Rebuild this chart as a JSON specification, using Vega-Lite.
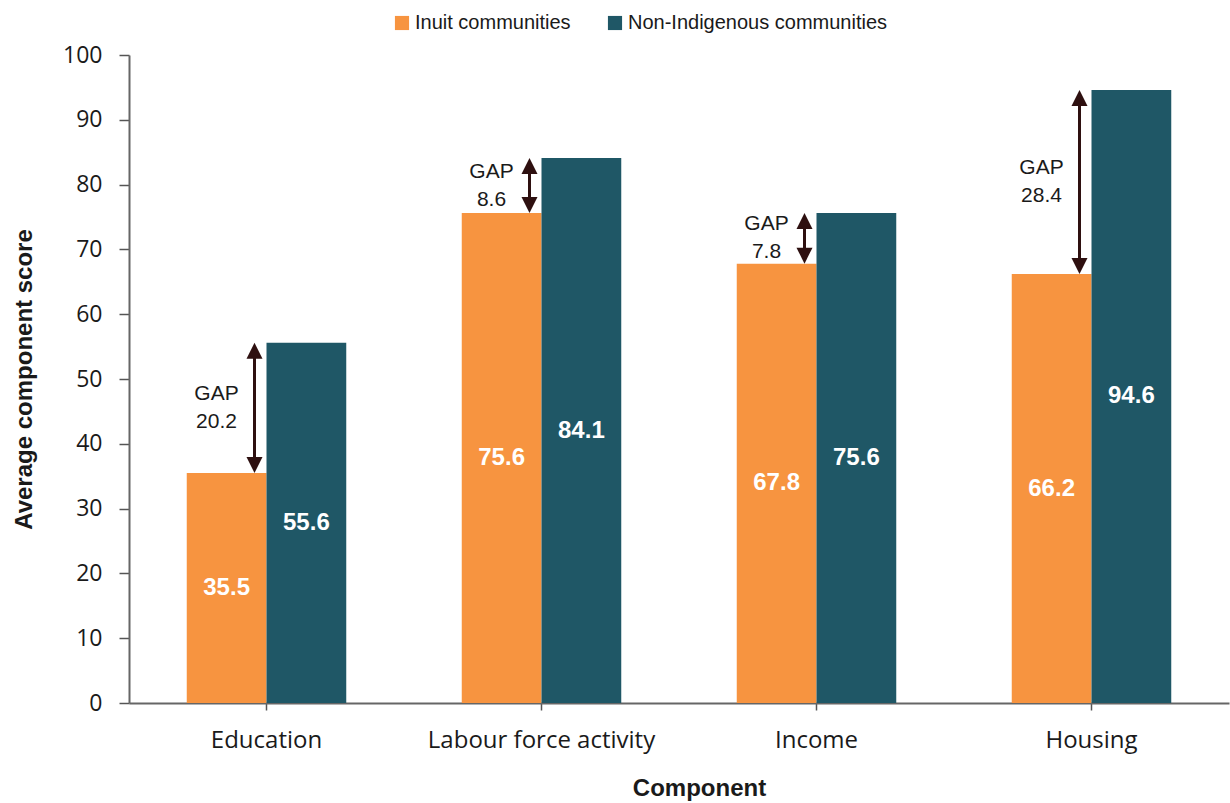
{
  "$schema": "https://vega.github.io/schema/vega-lite/v6.json",
  "width": 1100,
  "height": 648,
  "autosize": {"type": "none"},
  "padding": {"left": 129, "top": 55, "right": 1, "bottom": 100},
  "background": "white",
  "config": {"view": {"stroke": null}},
  "data": {
    "values": [
      {"component": "Education", "group": "Inuit communities", "value": 35.5, "gap": "GAP\n20.2"},
      {"component": "Education", "group": "Non-Indigenous communities", "value": 55.6, "gap": "GAP\n20.2"},
      {"component": "Labour force activity", "group": "Inuit communities", "value": 75.6, "gap": "GAP\n8.6"},
      {"component": "Labour force activity", "group": "Non-Indigenous communities", "value": 84.1, "gap": "GAP\n8.6"},
      {"component": "Income", "group": "Inuit communities", "value": 67.8, "gap": "GAP\n7.8"},
      {"component": "Income", "group": "Non-Indigenous communities", "value": 75.6, "gap": "GAP\n7.8"},
      {"component": "Housing", "group": "Inuit communities", "value": 66.2, "gap": "GAP\n28.4"},
      {"component": "Housing", "group": "Non-Indigenous communities", "value": 94.6, "gap": "GAP\n28.4"}
    ]
  },
  "resolve": {"scale": {"y": "independent"}, "axis": {"y": "independent"}},
  "layer": [
    {
      "layer": [
        {
          "mark": {"type": "bar"},
          "encoding": {
            "x": {
              "field": "component", "type": "nominal",
              "sort": ["Education", "Labour force activity", "Income", "Housing"],
              "scale": {"paddingInner": 0.42, "paddingOuter": 0.21},
              "title": "Component",
              "axis": {
                "labelAngle": 0, "labelFont": "Open Sans", "labelFontSize": 24, "labelColor": "#1a1a1a", "labelLimit": 0,
                "labelPadding": 18, "tickSize": 7, "tickColor": "#555555", "tickWidth": 1.5,
                "domainColor": "#666666", "domainWidth": 2,
                "titleFont": "Liberation Sans", "titleFontSize": 24, "titleFontWeight": "bold",
                "titleColor": "#1a1a1a", "titlePadding": 24, "titleX": 570
              }
            },
            "xOffset": {
              "field": "group", "type": "nominal",
              "sort": ["Inuit communities", "Non-Indigenous communities"],
              "scale": {"paddingInner": 0, "paddingOuter": 0}
            },
            "y": {
              "field": "value", "type": "quantitative",
              "scale": {"domain": [0, 100]},
              "title": "Average component score",
              "axis": {
                "values": [0, 10, 20, 30, 40, 50, 60, 70, 80, 90, 100],
                "grid": false, "labelFont": "Open Sans", "labelFontSize": 23, "labelColor": "#1a1a1a",
                "labelPadding": 17, "tickSize": 10, "tickColor": "#555555", "tickWidth": 1.5,
                "domainColor": "#666666", "domainWidth": 2,
                "titleFont": "Liberation Sans", "titleFontSize": 24, "titleFontWeight": "bold",
                "titleColor": "#1a1a1a", "titlePadding": 26
              }
            },
            "color": {
              "field": "group", "type": "nominal",
              "scale": {"domain": ["Inuit communities", "Non-Indigenous communities"], "range": ["#F79440", "#1F5766"]},
              "legend": {
                "orient": "none", "legendX": 263, "legendY": -42, "direction": "horizontal",
                "title": null, "symbolType": "square", "symbolSize": 200, "symbolStrokeWidth": 0,
                "labelFont": "Liberation Sans", "labelLimit": 0,
                "labelFontSize": 20, "labelColor": "#1a1a1a", "labelOffset": 3, "columnPadding": 34
              }
            }
          }
        },
        {
          "mark": {"type": "rule", "xOffset": -12, "strokeWidth": 3, "color": "#2E1010", "yOffset": -8, "y2Offset": 8},
          "encoding": {
            "x": {"field": "component", "type": "nominal", "sort": ["Education", "Labour force activity", "Income", "Housing"]},
            "y": {"field": "value", "type": "quantitative", "aggregate": "min"},
            "y2": {"field": "value", "aggregate": "max"}
          }
        },
        {
          "mark": {"type": "point", "shape": "M0,-1L1,1L-1,1Z", "filled": true, "size": 256, "color": "#2E1010", "opacity": 1, "xOffset": -12, "yOffset": 8},
          "encoding": {
            "x": {"field": "component", "type": "nominal", "sort": ["Education", "Labour force activity", "Income", "Housing"]},
            "y": {"field": "value", "type": "quantitative", "aggregate": "max"}
          }
        },
        {
          "mark": {"type": "point", "shape": "M0,1L1,-1L-1,-1Z", "filled": true, "size": 256, "color": "#2E1010", "opacity": 1, "xOffset": -12, "yOffset": -8},
          "encoding": {
            "x": {"field": "component", "type": "nominal", "sort": ["Education", "Labour force activity", "Income", "Housing"]},
            "y": {"field": "value", "type": "quantitative", "aggregate": "min"}
          }
        },
        {
          "mark": {"type": "text", "lineBreak": "\n", "font": "Liberation Sans", "fontSize": 21, "lineHeight": 28, "color": "#1a1a1a", "align": "center", "baseline": "middle", "dx": -50, "dy": -14},
          "encoding": {
            "x": {"field": "component", "type": "nominal", "sort": ["Education", "Labour force activity", "Income", "Housing"]},
            "y": {"field": "value", "type": "quantitative", "aggregate": "mean"},
            "text": {"field": "gap", "type": "nominal"}
          }
        }
      ]
    },
    {
      "mark": {"type": "text", "color": "white", "fontWeight": "bold", "fontSize": 24, "font": "Liberation Sans", "baseline": "middle"},
      "encoding": {
        "x": {"field": "component", "type": "nominal", "sort": ["Education", "Labour force activity", "Income", "Housing"]},
        "xOffset": {"field": "group", "type": "nominal", "sort": ["Inuit communities", "Non-Indigenous communities"]},
        "y": {"field": "value", "type": "quantitative", "scale": {"domain": [0, 200]}, "axis": null},
        "text": {"field": "value", "type": "quantitative", "format": ".1f"}
      }
    }
  ]
}
